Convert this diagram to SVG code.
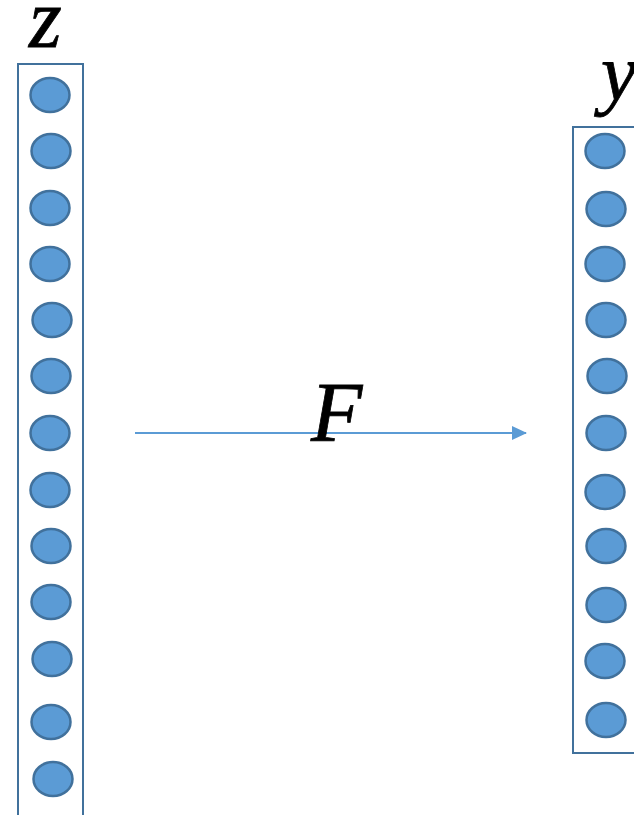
<svg xmlns="http://www.w3.org/2000/svg" width="634" height="815" viewBox="0 0 634 815">
<defs>
<style>
.box{fill:none;stroke:#41719C;stroke-width:2}
.n{fill:#5B9BD5;stroke:#41719C;stroke-width:2.5}
.lbl{font-family:"Liberation Serif",serif;font-style:italic;fill:#000}
.edge{stroke:#5B9BD5;stroke-width:2;fill:none}
</style>
<marker id="ah" markerWidth="7.5" markerHeight="7" refX="7" refY="3.5" orient="auto" markerUnits="strokeWidth">
<path d="M0,0 L7.5,3.5 L0,7 Z" fill="#5B9BD5"/>
</marker>
</defs>
<rect width="634" height="815" fill="#fff"/>
<g id="z">
<text class="lbl" x="29" y="47" font-size="84" stroke="#000" stroke-width="0.8">z</text>
<path class="box" d="M18,816 V64 H83 V816"/>
<ellipse class="n" cx="50" cy="95" rx="19.5" ry="17"/>
<ellipse class="n" cx="51" cy="151" rx="19.5" ry="17"/>
<ellipse class="n" cx="50" cy="208" rx="19.5" ry="17"/>
<ellipse class="n" cx="50" cy="264" rx="19.5" ry="17"/>
<ellipse class="n" cx="52" cy="320" rx="19.5" ry="17"/>
<ellipse class="n" cx="51" cy="376" rx="19.5" ry="17"/>
<ellipse class="n" cx="50" cy="433" rx="19.5" ry="17"/>
<ellipse class="n" cx="50" cy="490" rx="19.5" ry="17"/>
<ellipse class="n" cx="51" cy="546" rx="19.5" ry="17"/>
<ellipse class="n" cx="51" cy="602" rx="19.5" ry="17"/>
<ellipse class="n" cx="52" cy="659" rx="19.5" ry="17"/>
<ellipse class="n" cx="51" cy="722" rx="19.5" ry="17"/>
<ellipse class="n" cx="53" cy="779" rx="19.5" ry="17"/>
</g>
<g id="y">
<text class="lbl" x="601" y="100" font-size="80" stroke="#000" stroke-width="0.8">y</text>
<path class="box" d="M636,127 H573 V753 H636"/>
<ellipse class="n" cx="605" cy="151" rx="19.5" ry="17"/>
<ellipse class="n" cx="606" cy="209" rx="19.5" ry="17"/>
<ellipse class="n" cx="605" cy="264" rx="19.5" ry="17"/>
<ellipse class="n" cx="606" cy="320" rx="19.5" ry="17"/>
<ellipse class="n" cx="607" cy="376" rx="19.5" ry="17"/>
<ellipse class="n" cx="606" cy="433" rx="19.5" ry="17"/>
<ellipse class="n" cx="605" cy="492" rx="19.5" ry="17"/>
<ellipse class="n" cx="606" cy="546" rx="19.5" ry="17"/>
<ellipse class="n" cx="606" cy="605" rx="19.5" ry="17"/>
<ellipse class="n" cx="605" cy="661" rx="19.5" ry="17"/>
<ellipse class="n" cx="606" cy="720" rx="19.5" ry="17"/>
</g>
<g id="connectors">
<line class="edge" x1="135" y1="433" x2="526" y2="433" marker-end="url(#ah)"/>
</g>
<g id="label-F">
<text class="lbl" x="311" y="441" font-size="84" stroke="#000" stroke-width="0.8">F</text>
</g>
</svg>
